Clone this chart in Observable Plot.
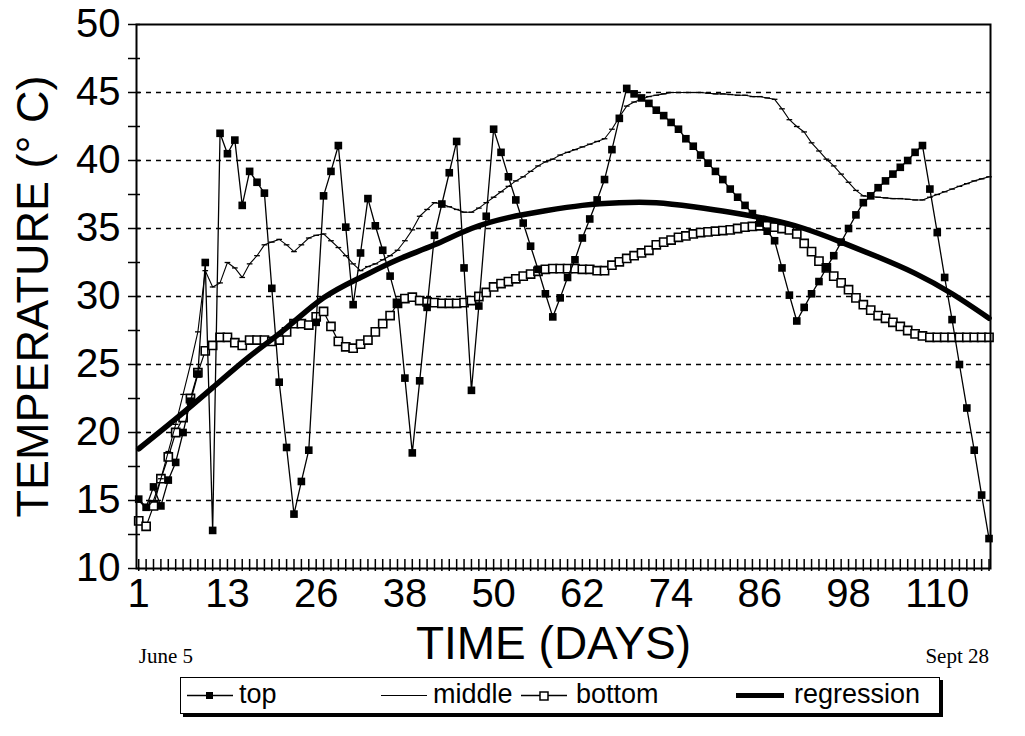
<!DOCTYPE html>
<html>
<head>
<meta charset="utf-8">
<script src="https://cdn.jsdelivr.net/npm/d3@7"></script>
<script src="https://cdn.jsdelivr.net/npm/@observablehq/plot@0.6"></script>
<style>
  body { margin: 0; background: #fff; font-family: "Liberation Sans", Arial, sans-serif; }
  #wrap { position: relative; width: 1025px; height: 736px; }
  #legend { position: absolute; left: 180px; top: 677px; width: 758px; height: 35px;
            border: 1.5px solid #000; box-shadow: 3px 3px 0 #000; background: #fff; }
  #legend span { font-size: 27px; line-height: 35px; }
</style>
</head>
<body>
<div id="wrap">
  <div id="chart"></div>
  <div id="legend"></div>
</div>
<script>
// Daily readings, June 5 (index 0) to Sept 28 (index 115), °C
const topTemp = [
  15.1, 14.5, 16.0, 14.6, 16.5, 17.8, 20.0, 22.3, 24.3, 32.5,
  12.8, 42.0, 40.5, 41.5, 36.7, 39.2, 38.4, 37.6, 30.6, 23.7,
  18.9, 14.0, 16.4, 18.7, 28.1, 37.4, 39.2, 41.1, 35.1, 29.4,
  33.2, 37.2, 35.2, 33.4, 31.5, 29.5, 24.0, 18.5, 23.8, 29.2,
  34.5, 36.8, 39.1, 41.4, 32.1, 23.1, 29.3, 35.9, 42.3, 40.6,
  38.8, 37.1, 35.4, 33.7, 32.0, 30.2, 28.5, 29.9, 31.4, 32.7,
  34.3, 35.7, 37.1, 38.6, 40.8, 43.1, 45.3, 44.9, 44.6, 44.2,
  43.7, 43.3, 42.8, 42.3, 41.6, 41.05, 40.4, 39.8, 39.2, 38.6,
  37.9, 37.3, 36.7, 36.1, 35.4, 34.8, 34.1, 32.1, 30.1, 28.2,
  29.2, 30.2, 31.1, 32.1, 33.0, 34.0, 35.0, 36.0, 36.9, 37.4,
  38.0, 38.5, 39.0, 39.5, 40.0, 40.6, 41.1, 37.9, 34.7, 31.4,
  28.3, 25.0, 21.8, 18.7, 15.4, 12.2
];
const middleTemp = [
  15.0, 14.4, 15.0, 16.6, 18.6, 20.6, 22.8, 25.0, 27.4, 31.9,
  30.7, 31.0, 32.5, 32.1, 31.4, 32.4, 33.0, 33.8, 34.0, 34.2,
  33.8, 33.3, 33.8, 34.3, 34.5, 34.6, 34.1, 33.6, 33.0, 32.4,
  31.9, 32.2, 32.4, 32.7, 33.0, 33.4, 34.1, 34.9, 35.9, 36.4,
  36.9, 36.8, 36.6, 36.4, 36.2, 36.2, 36.5, 36.9, 37.3, 37.7,
  38.1, 38.5, 38.8, 39.2, 39.6, 39.9, 40.1, 40.4, 40.6, 40.8,
  41.0, 41.2, 41.4, 41.6, 42.3, 43.2, 44.0, 44.3, 44.5, 44.7,
  44.8, 44.9, 45.0, 45.0, 45.0, 45.0, 45.0, 44.95, 44.9, 44.9,
  44.85, 44.8, 44.8, 44.7, 44.7, 44.6, 44.5, 43.8, 43.0, 42.5,
  42.1, 41.3, 40.7, 40.1, 39.6, 39.0, 38.4, 37.8, 37.4, 37.35,
  37.3, 37.25, 37.2, 37.2, 37.15, 37.1, 37.1, 37.3, 37.5, 37.7,
  37.9, 38.1, 38.3, 38.5, 38.65, 38.8
];
const bottomTemp = [
  13.5, 13.1, 14.6, 16.6, 18.2, 20.0, 21.1, 22.5, 24.4, 26.0,
  26.4, 27.0, 27.0, 26.6, 26.4, 26.8, 26.8, 26.8, 26.7, 26.8,
  27.4, 28.0, 28.0, 27.9, 28.5, 28.9, 27.8, 26.7, 26.3, 26.2,
  26.5, 26.8, 27.4, 28.0, 28.6, 29.5, 29.85, 29.95, 29.7, 29.6,
  29.55, 29.5, 29.5, 29.5, 29.55, 29.7, 30.0, 30.3, 30.7, 30.95,
  31.1, 31.3, 31.5, 31.65, 31.85, 32.0, 32.05, 32.05, 32.05, 32.05,
  32.0, 32.0, 31.9, 31.9, 32.3, 32.55, 32.8, 33.0, 33.2, 33.4,
  33.8, 34.0, 34.15, 34.35, 34.45, 34.6, 34.7, 34.75, 34.8, 34.85,
  34.9, 35.0, 35.1, 35.15, 35.2, 35.2, 35.1, 35.0, 34.9, 34.6,
  33.9, 33.3, 32.6, 32.1, 31.5, 31.0, 30.5, 29.9, 29.4, 29.0,
  28.6, 28.4, 28.1, 27.8, 27.5, 27.25, 27.1, 27.0, 27.0, 27.0,
  27.0, 27.0, 27.0, 27.0, 27.0, 27.0
];
// Fitted seasonal trend, sampled every 5 days
const regressionDay = [0, 5, 10, 15, 20, 25, 30, 35, 40, 45, 50, 55, 60, 65, 70, 75, 80, 85, 90, 95, 100, 105, 110, 115];
const regressionTemp = [18.8, 21.0, 23.3, 25.6, 27.7, 29.9, 31.4, 32.7, 33.8, 35.0, 35.8, 36.3, 36.7, 36.9, 36.9, 36.6, 36.2, 35.7, 35.0, 34.0, 32.9, 31.7, 30.2, 28.4];

// Axis text
const dayTickIndex = [0, 12, 24, 36, 48, 60, 72, 84, 96, 108];
const dayTickLabels = ["1", "13", "26", "38", "50", "62", "74", "86", "98", "110"];
const tempTicks = [10, 15, 20, 25, 30, 35, 40, 45, 50];
const tempMinorTicks = [12.5, 17.5, 22.5, 27.5, 32.5, 37.5, 42.5, 47.5];
const gridTemps = [15, 20, 25, 30, 35, 40, 45];
const startDate = "June 5";
const endDate = "Sept 28";

const days = d3.range(topTemp.length);
const series = (values) => values.map((t, i) => ({day: i, t}));
const topData = series(topTemp);
const middleData = series(middleTemp);
const bottomData = series(bottomTemp);
const regressionData = regressionDay.map((d, i) => ({day: d, t: regressionTemp[i]}));

// Short horizontal dash used as the "middle" marker
const dash = {
  draw(context, size) {
    const r = Math.sqrt(size) / 2;
    context.moveTo(-r, 0);
    context.lineTo(r, 0);
  }
};

const W = 1025, H = 668, mTop = 24, mBottom = 100, mLeft = 136, mRight = 35;
const frameH = H - mTop - mBottom;
const frameW = W - mLeft - mRight;
const allTempTicks = tempTicks.concat(tempMinorTicks);
const serif = "'Liberation Serif', 'Times New Roman', serif";

const chart = Plot.plot({
  width: W,
  height: H,
  marginTop: mTop,
  marginBottom: mBottom,
  marginLeft: mLeft,
  marginRight: mRight,
  style: {fontFamily: "'Liberation Sans', Arial, sans-serif", color: "#000", background: "#fff"},
  x: {domain: [-0.3, 115.2]},
  y: {domain: [10, 50]},
  marks: [
    Plot.ruleY(gridTemps, {stroke: "#000", strokeWidth: 1.6, strokeDasharray: "5,5"}),
    // y ticks: outward via axis, inward stubs via rules
    Plot.axisY({ticks: allTempTicks, tickSize: 8, tickFormat: () => "", label: null, strokeWidth: 1.5}),
    Plot.ruleY(allTempTicks, {insetRight: frameW - 4, strokeWidth: 1.5}),
    Plot.axisY({ticks: tempTicks, tickSize: 0, tickPadding: 16, fontSize: 40, label: null}),
    // day ticks
    Plot.axisX({ticks: days, tickSize: 3, tickFormat: () => "", label: null, strokeWidth: 1.5}),
    Plot.ruleX(days, {insetTop: frameH - 9, strokeWidth: 1.5}),
    Plot.axisX({ticks: dayTickIndex, tickSize: 0, tickPadding: 10, fontSize: 40,
      tickFormat: (d) => dayTickLabels[dayTickIndex.indexOf(d)], label: null}),
    Plot.text(["TIME (DAYS)"], {frameAnchor: "bottom", dy: 90, dx: -10, fontSize: 46}),
    Plot.text(["TEMPERATURE (° C)"], {frameAnchor: "left", textAnchor: "middle", rotate: -90, dx: -103, fontSize: 45}),
    Plot.text([startDate], {x: 0, frameAnchor: "bottom", dy: 94, textAnchor: "start", fontSize: 21, fontFamily: serif}),
    Plot.text([endDate], {x: 115, frameAnchor: "bottom", dy: 94, textAnchor: "end", fontSize: 21, fontFamily: serif}),
    // bottom
    Plot.line(bottomData, {x: "day", y: "t", stroke: "#000", strokeWidth: 1.2}),
    Plot.dot(bottomData, {x: "day", y: "t", symbol: "square", r: 4.6, fill: "#fff", stroke: "#000", strokeWidth: 1.6}),
    // middle
    Plot.line(middleData, {x: "day", y: "t", stroke: "#000", strokeWidth: 1.1}),
    Plot.dot(middleData, {x: "day", y: "t", symbol: dash, r: 3.2, stroke: "#000", strokeWidth: 1.3}),
    // regression
    Plot.line(regressionData, {x: "day", y: "t", curve: "natural", stroke: "#000", strokeWidth: 5.5}),
    // top
    Plot.line(topData, {x: "day", y: "t", stroke: "#000", strokeWidth: 1.3}),
    Plot.dot(topData, {x: "day", y: "t", symbol: "square", r: 4.3, fill: "#000", stroke: "none"}),
    Plot.frame({stroke: "#000", strokeWidth: 2})
  ]
});
document.getElementById("chart").append(chart);

// Legend
const legendItems = [
  {name: "top", kind: "top", at: 6, textAt: 58},
  {name: "middle", kind: "middle", at: 200, textAt: 252},
  {name: "bottom", kind: "bottom", at: 340, textAt: 395},
  {name: "regression", kind: "regression", at: 555, textAt: 613}
];
const legend = d3.select("#legend");
for (const item of legendItems) {
  const svg = legend.append("svg").attr("width", 48).attr("height", 35)
    .style("position", "absolute").style("left", item.at + "px").style("top", "0px");
  if (item.kind === "regression") {
    svg.append("line").attr("x1", 0).attr("x2", 48).attr("y1", 17.5).attr("y2", 17.5)
      .attr("stroke", "#000").attr("stroke-width", 5);
  } else {
    svg.append("line").attr("x1", 0).attr("x2", 46).attr("y1", 17.5).attr("y2", 17.5)
      .attr("stroke", "#000").attr("stroke-width", item.kind === "middle" ? 1.2 : 1.5);
  }
  if (item.kind === "top") {
    svg.append("rect").attr("x", 19).attr("y", 14).attr("width", 7).attr("height", 7).attr("fill", "#000");
  }
  if (item.kind === "bottom") {
    svg.append("rect").attr("x", 19).attr("y", 14).attr("width", 8).attr("height", 8)
      .attr("fill", "#fff").attr("stroke", "#000").attr("stroke-width", 1.5);
  }
  legend.append("span").text(item.name)
    .style("position", "absolute").style("left", item.textAt + "px").style("top", "-1px");
}
</script>
</body>
</html>
